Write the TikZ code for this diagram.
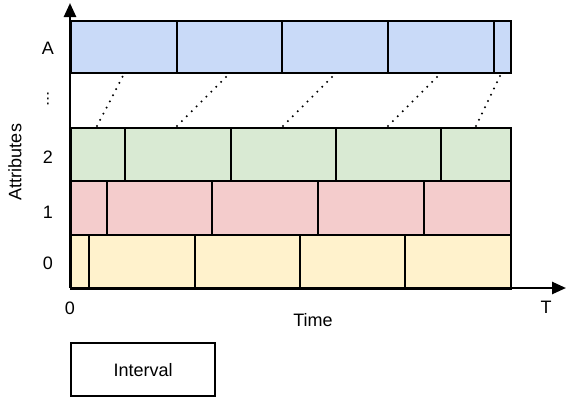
\documentclass[tikz,border=0pt]{standalone}
\usepackage{fontspec}
\setmainfont{Liberation Sans}
\newfontfamily\symfont{DejaVu Sans}
\usetikzlibrary{arrows.meta}
\definecolor{cblue}{HTML}{C9DAF8}
\definecolor{cgreen}{HTML}{D9EAD3}
\definecolor{cred}{HTML}{F4CCCC}
\definecolor{cyellow}{HTML}{FFF2CC}
\tikzset{
  cell/.style={draw=black, line width=1.6pt, rectangle, inner sep=0pt, anchor=north west},
  axis/.style={line width=1.9pt, -{Triangle[length=10.5pt,width=9pt]}},
  dotline/.style={line width=1.7pt, dash pattern=on 0pt off 5.2pt, line cap=round},
  lbl/.style={font=\fontsize{13.5}{16}\selectfont, inner sep=0pt},
}
\begin{document}
\begin{tikzpicture}[x=0.75pt,y=-0.75pt]
\useasboundingbox (0,0) rectangle (566,401);
% Row A
\foreach \a/\b [count=\i] in {70/176,176/281,281/387,387/493,493/510}{
  \node[cell, fill=cblue, minimum width={(\b-\a)*0.75pt}, minimum height={52*0.75pt}] (A\i) at (\a,20) {};
}
% Row 2
\foreach \a/\b [count=\i] in {70/124,124/229.5,229.5/335,335/440,440/510}{
  \node[cell, fill=cgreen, minimum width={(\b-\a)*0.75pt}, minimum height={53.5*0.75pt}] (B\i) at (\a,126.5) {};
}
% Row 1
\foreach \a/\b [count=\i] in {70/106,106/211,211/317,317/423,423/510}{
  \node[cell, fill=cred, minimum width={(\b-\a)*0.75pt}, minimum height={54*0.75pt}] (C\i) at (\a,180) {};
}
% Row 0
\foreach \a/\b [count=\i] in {70/88,88/194,194/299,299/404,404/510}{
  \node[cell, fill=cyellow, minimum width={(\b-\a)*0.75pt}, minimum height={54*0.75pt}] (D\i) at (\a,234) {};
}
% dotted links
\coordinate (p1b) at (97,126);  \coordinate (p1t) at (124,74);
\coordinate (p2b) at (177,126); \coordinate (p2t) at (229,74);
\coordinate (p3b) at (283,126); \coordinate (p3t) at (335,74);
\coordinate (p4b) at (388,126); \coordinate (p4t) at (440,74);
\coordinate (p5b) at (476,126); \coordinate (p5t) at (501,74);
\foreach \k in {1,...,5}{ \draw[dotline] (p\k b) -- (p\k t); }
% axes
\coordinate (O) at (70,288);
\coordinate (Ytop) at (70,3);
\coordinate (Xend) at (566,288);
\draw[axis] (O) -- (Ytop);
\draw[axis] (O) -- (Xend);
% labels
\node[lbl] (lA) at (48,48) {A};
\node[lbl, font=\symfont\fontsize{11}{13}\selectfont] (ldots) at (48,99) {⋮};
\node[lbl] (l2) at (48,157) {2};
\node[lbl] (l1) at (48,212) {1};
\node[lbl] (l0) at (48,263) {0};
\node[lbl, rotate=90] (attr) at (15,162) {Attributes};
\node[lbl] (t0) at (70,308) {0};
\node[lbl] (tT) at (546,307) {T};
\node[lbl] (time) at (313,320) {Time};
\node[draw, line width=1.6pt, minimum width={144*0.75pt}, minimum height={53*0.75pt}, lbl, anchor=north west] (iv) at (70,342) {};
\node[lbl] (ivt) at (iv.center) {Interval};
\end{tikzpicture}
\end{document}
